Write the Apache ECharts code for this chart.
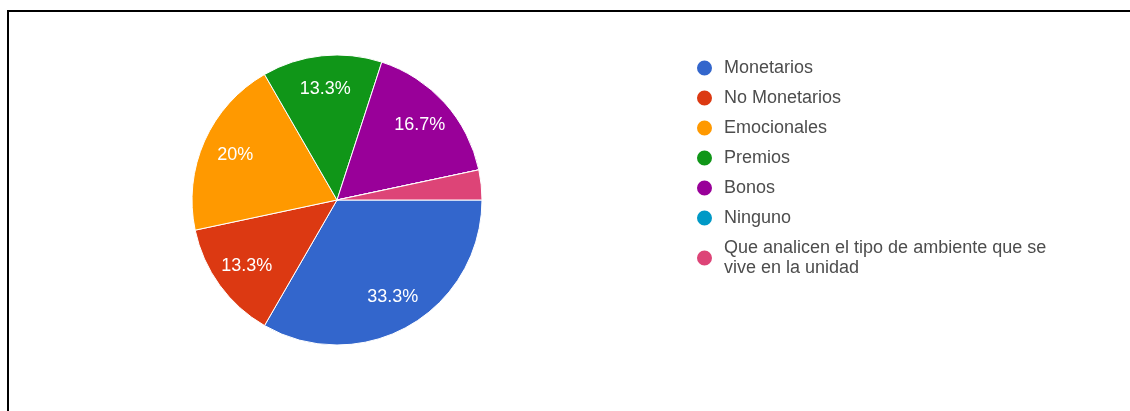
<!DOCTYPE html>
<html>
<head>
<meta charset="utf-8">
<script src="https://cdn.jsdelivr.net/npm/echarts@6/dist/echarts.min.js"></script>
<style>
    html, body {margin: 0; padding: 0; background: #fff;}
    #main {position: absolute; left: 0; top: 0; width: 1130px; height: 411px;}
    #frame {
        position: absolute; left: 7px; top: 10px; right: 0; bottom: 0;
        border-top: 2px solid #000; border-left: 2px solid #000;
        pointer-events: none;
    }
</style>
</head>
<body>
<div id="main"></div>
<div id="frame"></div>
<script>
const categories = [
    'Monetarios',
    'No Monetarios',
    'Emocionales',
    'Premios',
    'Bonos',
    'Ninguno',
    'Que analicen el tipo de ambiente que se vive en la unidad',
]
const counts = [10, 4, 6, 4, 5, 0, 1]
const colors = ['#3366cc', '#dc3912', '#ff9900', '#109618', '#990099', '#0099c6', '#dd4477']

const total = counts.reduce((a, b) => a + b, 0)

const chart = echarts.init(document.getElementById('main'))

chart.setOption({
    animation: false,
    color: colors,
    legend: {
        orient: 'vertical',
        left: 690,
        top: 53,
        icon: 'circle',
        itemWidth: 17,
        itemHeight: 17,
        itemGap: 10,
        textStyle: {
            fontFamily: 'Liberation Sans, Arial, sans-serif',
            fontSize: 18,
            lineHeight: 20,
            color: '#4d4d4d',
            padding: [0, 0, 0, 6],
        },
        formatter: name => name.replace('que se ', 'que se\n'),
        data: categories,
    },
    series: [
        {
            type: 'pie',
            center: [337, 200],
            radius: [0, 145],
            startAngle: 0,
            clockwise: true,
            silent: true,
            label: {show: false},
            labelLine: {show: false},
            itemStyle: {borderColor: '#fff', borderWidth: 1},
            data: categories.map((name, i) => ({name, value: counts[i]})),
        },
        {
            // overlay ring only used to place the percentage labels
            type: 'pie',
            center: [337, 200],
            radius: [72, 145],
            startAngle: 0,
            clockwise: true,
            silent: true,
            percentPrecision: 1,
            itemStyle: {color: 'rgba(0,0,0,0)'},
            labelLine: {show: false},
            label: {
                position: 'inside',
                formatter: '{d}%',
                color: '#fff',
                fontFamily: 'Liberation Sans, Arial, sans-serif',
                fontSize: 18,
            },
            data: counts.map(v => ({
                value: v,
                label: {show: v / total >= 0.05},
            })),
        },
    ],
})
</script>
</body>
</html>
